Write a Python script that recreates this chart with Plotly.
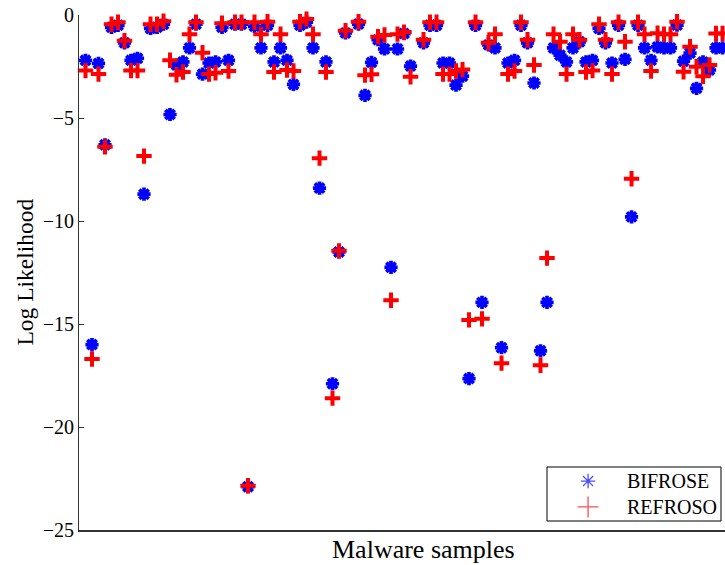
import plotly.graph_objects as go

# Sample index (1..99) and log-likelihood values
samples = list(range(1, 100))

bifrose = [
    -2.2, -16.0, -2.35, -6.3, -0.6, -0.5, -1.35, -2.2, -2.1, -8.7,
    -0.65, -0.6, -0.45, -4.83, -2.43, -2.28, -1.6, -0.45, -2.87, -2.33,
    -2.28, -0.6, -2.2, -0.45, -0.45, -22.9, -0.55, -1.6, -0.5, -2.28,
    -1.6, -2.2, -3.37, -0.5, -0.35, -1.6, -8.4, -2.28, -17.9, -11.5,
    -0.87, None, -0.44, -3.9, -2.3, -1.2, -1.65, -12.25, -1.65, -0.9,
    -2.48, None, -1.35, -0.5, -0.5, -2.33, -2.33, -3.4, -2.97, -17.65,
    -0.5, -13.95, -1.45, -1.6, -16.15, -2.33, -2.2, -0.5, -1.35, -3.3,
    -16.3, -13.95, -1.6, -1.95, -2.28, -1.6, -1.3, -2.28, -2.2, -0.65,
    -1.35, -2.33, -0.5, -2.15, -9.8, -0.5, -1.6, -2.2, -1.55, -1.6,
    -1.6, -0.49, -2.24, -1.85, -3.56, -2.28, -2.67, -1.6, -1.6,
]

refroso = [
    -2.7, -16.7, -2.87, -6.4, -0.45, -0.35, -1.25, -2.7, -2.7, -6.85,
    -0.45, -0.45, -0.3, -2.2, -2.9, -2.77, -0.93, -0.35, -1.83, -2.87,
    -2.8, -0.4, -2.72, -0.35, -0.35, -22.85, -0.35, -0.93, -0.33, -2.77,
    -0.93, -2.67, -2.72, -0.33, -0.2, -0.93, -6.95, -2.77, -18.6, -11.45,
    -0.76, None, -0.33, -2.92, -2.88, -1.05, -0.97, -13.85, -0.93, -0.83,
    -3.0, None, -1.2, -0.35, -0.35, -2.87, -2.87, -2.72, -2.65, -14.8,
    -0.35, -14.75, -1.35, -0.93, -16.9, -2.87, -2.72, -0.35, -1.2, -2.43,
    -17.0, -11.8, -0.93, -1.3, -2.87, -0.93, -1.2, -2.77, -2.7, -0.45,
    -1.2, -2.87, -0.35, -1.3, -7.95, -0.35, -0.93, -2.72, -0.88, -0.93,
    -0.93, -0.33, -2.76, -1.54, -2.51, -2.97, -2.43, -0.9, -0.9,
]

series_names = ["BIFROSE", "REFROSO"]

y_ticks = [-25, -20, -15, -10, -5, 0]
y_tick_labels = ["\u221225", "\u221220", "\u221215", "\u221210", "\u22125", "0"]

BLUE = "#0000FF"
RED = "#FF0000"
FONT = "Liberation Serif"

fig = go.Figure()

fig.add_trace(go.Scatter(
    x=samples, y=bifrose, mode="markers", name=series_names[0], showlegend=False,
    cliponaxis=False, hoverinfo="skip",
    marker=dict(symbol="asterisk-open", size=11, color=BLUE,
                line=dict(color=BLUE, width=3.7)),
))
fig.add_trace(go.Scatter(
    x=samples, y=refroso, mode="markers", name=series_names[1], showlegend=False,
    cliponaxis=False, hoverinfo="skip",
    marker=dict(symbol="cross-thin-open", size=11, color=RED,
                line=dict(color=RED, width=4)),
))

# Legend glyphs on an overlay axis measured in legend-box units
fig.add_trace(go.Scatter(
    x=[0.236, 0.236], y=[0.74, 0.26], mode="markers", xaxis="x2", yaxis="y2",
    showlegend=False, hoverinfo="skip", cliponaxis=False,
    marker=dict(symbol=["asterisk-open", "cross-thin-open"], size=[12, 15],
                color=[BLUE, RED], line=dict(color=[BLUE, RED], width=1.3)),
))

# legend box position in paper coords of the plot area
LX0, LX1 = (547 - 79) / 646, (721 - 79) / 646
LY0, LY1 = (530 - 521) / 515, (530 - 467) / 515

fig.update_layout(
    width=725, height=565,
    margin=dict(l=79, r=0, t=15, b=35),
    paper_bgcolor="white", plot_bgcolor="rgba(0,0,0,0)",
    showlegend=False,
    font=dict(family=FONT, size=20, color="black"),
    xaxis=dict(range=[0, 99.38], showgrid=False, zeroline=False,
               showticklabels=False, ticks="", showline=True,
               linecolor="#333333", linewidth=1.5),
    yaxis=dict(range=[-25, 0], showgrid=False, zeroline=False,
               tickvals=y_ticks, ticktext=y_tick_labels,
               ticks="inside", ticklen=5, tickcolor="#333333",
               ticklabeloverflow="allow",
               showline=True, linecolor="#333333", linewidth=1,
               tickfont=dict(family=FONT, size=20)),
    xaxis2=dict(domain=[LX0, LX1], range=[0, 1], anchor="y2", visible=False,
                fixedrange=True),
    yaxis2=dict(domain=[LY0, LY1], range=[0, 1], anchor="x2", visible=False,
                fixedrange=True),
    shapes=[
        dict(type="rect", xref="paper", yref="paper",
             x0=LX0, x1=LX1, y0=LY0, y1=LY1,
             line=dict(color="black", width=1), layer="above"),
    ],
    annotations=[
        dict(text=series_names[0], xref="x2", yref="y2", x=0.447, y=0.74,
             xanchor="left", yanchor="middle", showarrow=False,
             font=dict(family=FONT, size=20)),
        dict(text=series_names[1], xref="x2", yref="y2", x=0.447, y=0.26,
             xanchor="left", yanchor="middle", showarrow=False,
             font=dict(family=FONT, size=20)),
        dict(text="Malware samples", xref="paper", yref="paper",
             x=0.534, y=-0.037, xanchor="center", yanchor="middle",
             showarrow=False, font=dict(family=FONT, size=26)),
        dict(text="Log Likelihood", xref="paper", yref="paper",
             x=-0.085, y=0.5, xanchor="center", yanchor="middle",
             textangle=-90, showarrow=False, font=dict(family=FONT, size=23.5)),
    ],
)

# remove the default page margin so the figure fills the window exactly
fig.write_html(
    "out.html",
    config={"displayModeBar": False},
    post_script="document.body.style.margin='0';document.body.style.overflow='hidden';",
)
